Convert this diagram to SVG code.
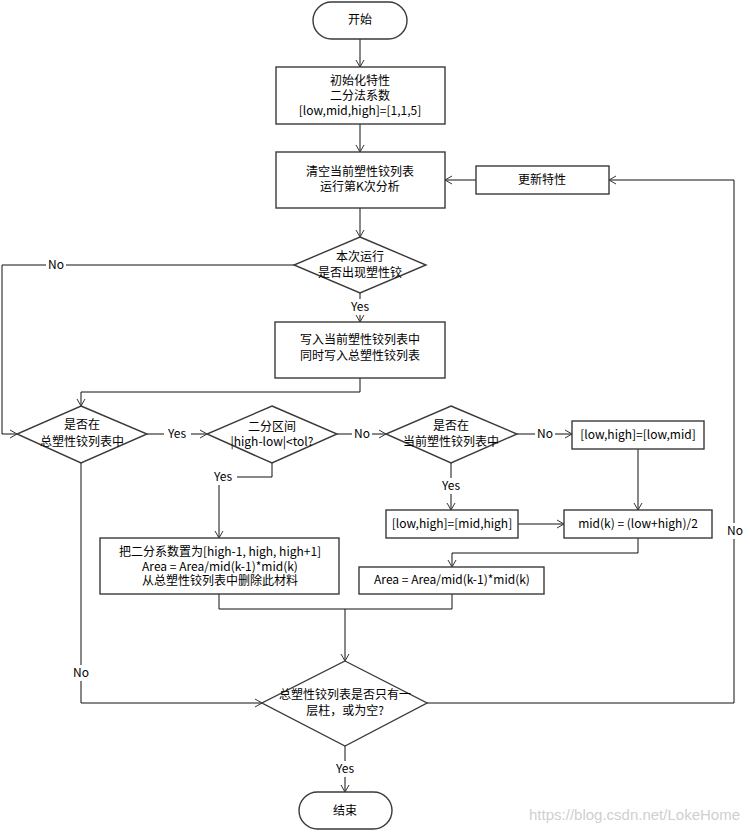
<svg xmlns="http://www.w3.org/2000/svg" width="750" height="832" viewBox="0 0 750 832">
<style>
.shape{fill:#fff;stroke:#3a3a3a;stroke-width:1.4}
.t{font-family:"Noto Sans CJK SC","Microsoft YaHei",sans-serif;font-size:12px;fill:#000;text-anchor:middle}
.c{fill:none;stroke:#111;stroke-width:1}
.lb{fill:#fff}
.wm{font-family:"Liberation Sans",Arial,sans-serif;font-size:15px;fill:#cfcfcf;text-anchor:end}
</style>
<defs>
<marker id="ah" markerUnits="userSpaceOnUse" markerWidth="10" markerHeight="10" refX="8" refY="5" orient="auto">
<path d="M1,1 L8,5 L1,9" fill="none" stroke="#333" stroke-width="1"/>
</marker>
</defs>
<rect width="750" height="832" fill="#fff"/>

<g id="connectors">
<path class="c" d="M360,39 V67" marker-end="url(#ah)"/>
<path class="c" d="M360,124 V152" marker-end="url(#ah)"/>
<path class="c" d="M360,208 V237" marker-end="url(#ah)"/>
<path class="c" d="M360,293 V322" marker-end="url(#ah)"/>
<path class="c" d="M294,265 H2 V434 H17" marker-end="url(#ah)"/>
<path class="c" d="M360,378 V392 H81 V406" marker-end="url(#ah)"/>
<path class="c" d="M147,434 H207" marker-end="url(#ah)"/>
<path class="c" d="M337,434 H386" marker-end="url(#ah)"/>
<path class="c" d="M517,434 H572" marker-end="url(#ah)"/>
<path class="c" d="M451,463 V510" marker-end="url(#ah)"/>
<path class="c" d="M272,463 V477 H219 V538" marker-end="url(#ah)"/>
<path class="c" d="M638,449 V510" marker-end="url(#ah)"/>
<path class="c" d="M518,524 H564" marker-end="url(#ah)"/>
<path class="c" d="M638,538 V553 H452 V567" marker-end="url(#ah)"/>
<path class="c" d="M219,594 V609 H452 V594"/>
<path class="c" d="M345,609 V661" marker-end="url(#ah)"/>
<path class="c" d="M81,463 V703 H262" marker-end="url(#ah)"/>
<path class="c" d="M427,703 H734 V180 H609" marker-end="url(#ah)"/>
<path class="c" d="M476,180 H445" marker-end="url(#ah)"/>
<path class="c" d="M345,746 V792" marker-end="url(#ah)"/>
<g id="labels">
<rect class="lb" x="345" y="299" width="30" height="16"/><text class="t" x="360" y="311">Yes</text>
<rect class="lb" x="46" y="257" width="20" height="16"/><text class="t" x="56" y="269">No</text>
<rect class="lb" x="164" y="426" width="27" height="16"/><text class="t" x="177" y="438">Yes</text>
<rect class="lb" x="352" y="426" width="20" height="16"/><text class="t" x="362" y="438">No</text>
<rect class="lb" x="535" y="426" width="20" height="16"/><text class="t" x="545" y="438">No</text>
<rect class="lb" x="437" y="478" width="28" height="16"/><text class="t" x="451" y="490">Yes</text>
<rect class="lb" x="209" y="469" width="28" height="16"/><text class="t" x="223" y="481">Yes</text>
<rect class="lb" x="71" y="665" width="20" height="16"/><text class="t" x="81" y="677">No</text>
<rect class="lb" x="725" y="523" width="20" height="16"/><text class="t" x="735" y="535">No</text>
<rect class="lb" x="331" y="761" width="28" height="16"/><text class="t" x="345" y="773">Yes</text>
</g>
</g>

<g id="start"><rect class="shape" x="313" y="2" width="94" height="37" rx="18.5"/><text class="t" x="360" y="24">开始</text></g>
<g id="init"><rect class="shape" x="276" y="67" width="169" height="57"/>
<text class="t" x="360" y="85">初始化特性</text><text class="t" x="360" y="100">二分法系数</text><text class="t" x="360" y="115">[low,mid,high]=[1,1,5]</text></g>
<g id="clear"><rect class="shape" x="276" y="152" width="169" height="56"/>
<text class="t" x="360" y="176">清空当前塑性铰列表</text><text class="t" x="360" y="191">运行第K次分析</text></g>
<g id="update"><rect class="shape" x="476" y="166" width="133" height="28"/><text class="t" x="542" y="184">更新特性</text></g>
<g id="d1"><polygon class="shape" points="360,237 426,265 360,293 294,265"/>
<text class="t" x="360" y="261">本次运行</text><text class="t" x="360" y="277">是否出现塑性铰</text></g>
<g id="write"><rect class="shape" x="275" y="322" width="170" height="56"/>
<text class="t" x="360" y="344">写入当前塑性铰列表中</text><text class="t" x="360" y="360">同时写入总塑性铰列表</text></g>
<g id="d2"><polygon class="shape" points="81,406 147,434 81,463 17,434"/>
<text class="t" x="82" y="429">是否在</text><text class="t" x="82" y="446">总塑性铰列表中</text></g>
<g id="d3"><polygon class="shape" points="272,406 337,434 272,463 207,434"/>
<text class="t" x="272" y="431">二分区间</text><text class="t" x="272" y="446">|high-low|&lt;tol?</text></g>
<g id="d4"><polygon class="shape" points="451,406 517,434 451,463 386,434"/>
<text class="t" x="451" y="430">是否在</text><text class="t" x="451" y="446">当前塑性铰列表中</text></g>
<g id="b5"><rect class="shape" x="572" y="421" width="132" height="28"/><text class="t" x="638" y="439">[low,high]=[low,mid]</text></g>
<g id="b6"><rect class="shape" x="386" y="510" width="132" height="28"/><text class="t" x="452" y="528">[low,high]=[mid,high]</text></g>
<g id="b7"><rect class="shape" x="564" y="510" width="148" height="28"/><text class="t" x="638" y="528">mid(k) = (low+high)/2</text></g>
<g id="b4"><rect class="shape" x="100" y="538" width="239" height="56"/>
<text class="t" x="220" y="556">把二分系数置为[high-1, high, high+1]</text><text class="t" x="220" y="571">Area = Area/mid(k-1)*mid(k)</text><text class="t" x="220" y="585">从总塑性铰列表中删除此材料</text></g>
<g id="b8"><rect class="shape" x="359" y="567" width="185" height="27"/><text class="t" x="452" y="584">Area = Area/mid(k-1)*mid(k)</text></g>
<g id="d5"><polygon class="shape" points="345,661 427,703 345,746 262,703"/>
<text class="t" x="345" y="699">总塑性铰列表是否只有一</text><text class="t" x="345" y="715">层柱，或为空?</text></g>
<g id="end"><rect class="shape" x="299" y="792" width="93" height="37" rx="18.5"/><text class="t" x="345" y="815">结束</text></g>
<text class="wm" x="740" y="820">https://blog.csdn.net/LokeHome</text>
</svg>
